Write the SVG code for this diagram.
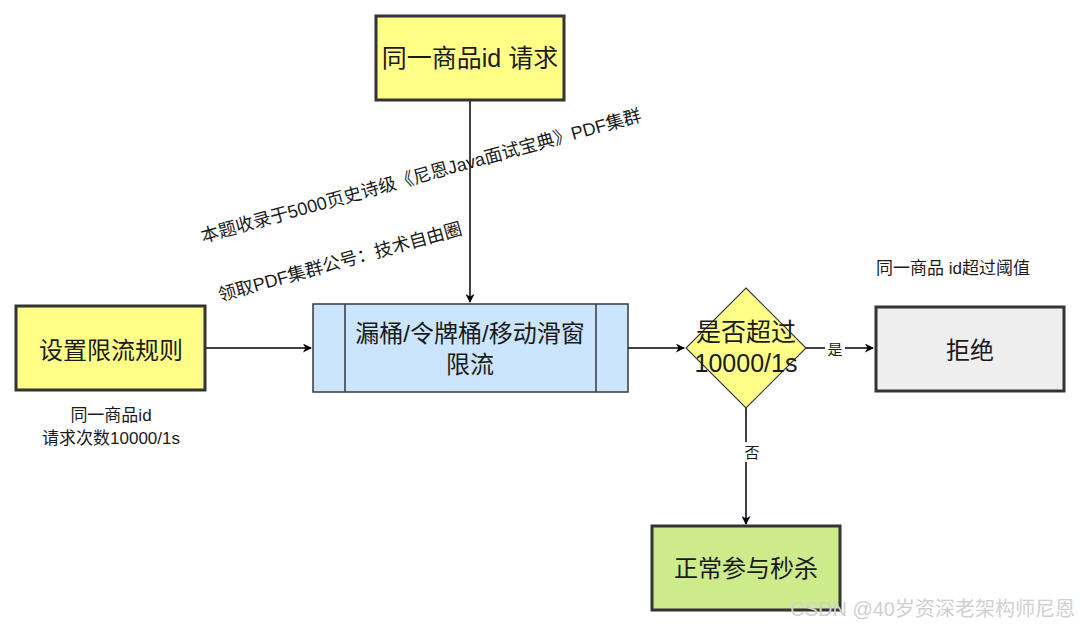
<svg xmlns="http://www.w3.org/2000/svg" width="1080" height="627" viewBox="0 0 1080 627">
<style>
text{font-family:"Liberation Sans","Noto Sans CJK SC",sans-serif;fill:#1a1a1a;text-anchor:middle;dominant-baseline:central}
.box{stroke:#333;stroke-width:3}
.edge{fill:none;stroke:#000;stroke-width:1.5}
.big{font-size:24px}
.sm{font-size:17px}
</style>
<defs>
<marker id="arr" viewBox="0 0 10 10" refX="9" refY="5" markerWidth="9" markerHeight="9" markerUnits="userSpaceOnUse" orient="auto">
<path d="M0,0 L10,5 L0,10 L3,5 Z" fill="#000"/>
</marker>
</defs>
<rect width="1080" height="627" fill="#fff"/>
<g id="connectors">
<path class="edge" d="M470,101 V302" marker-end="url(#arr)"/>
<path class="edge" d="M206,348 H311" marker-end="url(#arr)"/>
<path class="edge" d="M628,348 H684" marker-end="url(#arr)"/>
<path class="edge" d="M806,348 H873" marker-end="url(#arr)"/>
<path class="edge" d="M746,408 V524" marker-end="url(#arr)"/>
<rect x="825" y="339" width="20" height="20" fill="#fff"/>
<text x="835" y="349" font-size="15">是</text>
<rect x="742" y="442" width="20" height="20" fill="#fff"/>
<text x="752" y="452" font-size="15">否</text>
</g>
<g id="request">
<rect class="box" x="376" y="16" width="188" height="84" fill="#ffff88"/>
<text x="470" y="58" font-size="25">同一商品id 请求</text>
</g>
<g id="rule">
<rect class="box" x="16" y="306" width="189" height="84" fill="#ffff88"/>
<text x="111" y="350" class="big">设置限流规则</text>
<text x="111" y="415" class="sm">同一商品id</text>
<text x="111" y="438" class="sm">请求次数10000/1s</text>
</g>
<g id="limit">
<rect x="313" y="304" width="315" height="88" fill="#cce5ff" stroke="#36393d" stroke-width="1.5"/>
<path d="M345,304 V392 M596,304 V392" stroke="#36393d" stroke-width="1.5"/>
<text x="470" y="333" class="big">漏桶/令牌桶/移动滑窗</text>
<text x="470" y="364" class="big">限流</text>
</g>
<g id="decision">
<path d="M746,288 L806,348 L746,408 L686,348 Z" fill="#ffff88" stroke="#36393d" stroke-width="1.2"/>
<text x="746" y="332" font-size="25">是否超过</text>
<text x="746" y="363" font-size="25">10000/1s</text>
</g>
<g id="reject">
<rect class="box" x="876" y="307" width="188" height="84" fill="#eeeeee"/>
<text x="970" y="350" class="big">拒绝</text>
<text x="953" y="268" class="sm">同一商品 id超过阈值</text>
</g>
<g id="pass">
<rect class="box" x="652" y="526" width="188" height="84" fill="#cdeb8b"/>
<text x="746" y="568" class="big">正常参与秒杀</text>
</g>
<g id="notes">
<text x="421" y="176" font-size="18" transform="rotate(-15.5 421 176)">本题收录于5000页史诗级《尼恩Java面试宝典》PDF集群</text>
<text x="340" y="262" font-size="18" transform="rotate(-15.5 340 262)">领取PDF集群公号：技术自由圈</text>
<text x="1075" y="609" font-size="20" style="text-anchor:end;fill:#d0d0d0">CSDN @40岁资深老架构师尼恩</text>
</g>
</svg>
